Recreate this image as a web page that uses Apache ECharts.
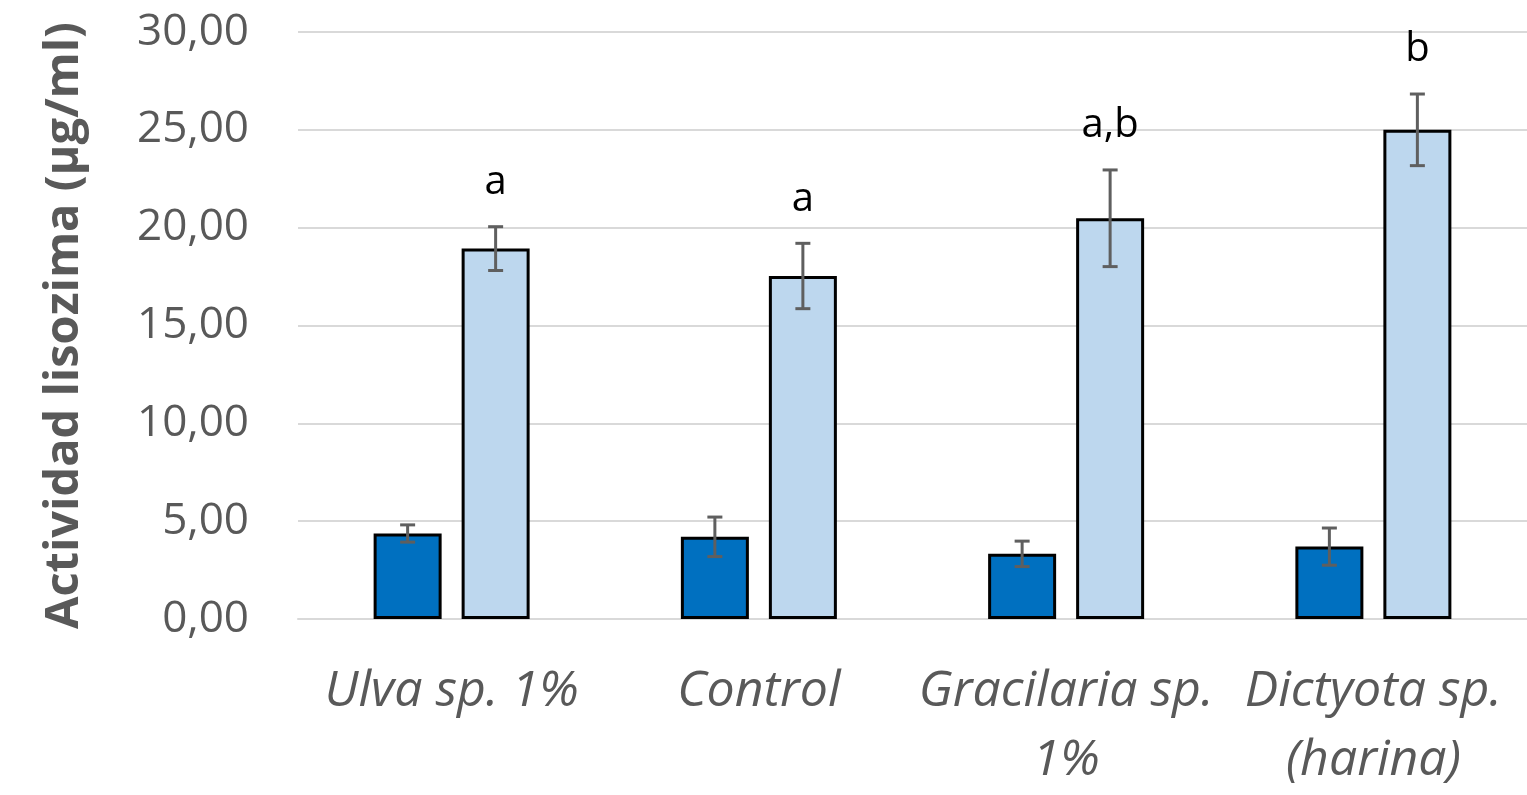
<!DOCTYPE html>
<html>
<head>
<meta charset="utf-8">
<script src="https://cdn.jsdelivr.net/npm/echarts@6/dist/echarts.min.js"></script>
<style>
  html, body { margin: 0; padding: 0; background: #fff; }
  #chart { width: 1527px; height: 795px; }
</style>
</head>
<body>
<div id="chart"></div>
<script>
// Lysozyme activity per diet (two sampling times), mean ± SD
const categories = ['Ulva sp. 1%', 'Control', 'Gracilaria sp.\n1%', 'Dictyota sp.\n(harina)'];
const seriesDark = [4.37, 4.20, 3.33, 3.70];
const errDark = [0.44, 1.01, 0.65, 0.95];
const seriesLight = [18.93, 17.53, 20.48, 25.00];
const errLight = [1.12, 1.67, 2.47, 1.83];
const letters = ['a', 'a', 'a,b', 'b'];
const yTicks = { min: 0, max: 30, interval: 5 };

const BAR_W = 68;
const GAP = 20;
const SHIFT = (BAR_W + GAP) / 2;
const FONT = '"Open Sans", "Noto Sans", sans-serif';

function errorRenderer(shift, withLetters) {
  return function (params, api) {
    const idx = api.value(0);
    const val = api.value(1);
    const err = api.value(2);
    const top = api.coord([idx, val + err]);
    const bot = api.coord([idx, val - err]);
    const x = top[0] + shift;
    const cap = 7.5;
    const style = { stroke: '#5f5f5f', lineWidth: 3 };
    const children = [
      { type: 'line', shape: { x1: x, y1: top[1], x2: x, y2: bot[1] }, style },
      { type: 'line', shape: { x1: x - cap, y1: top[1], x2: x + cap, y2: top[1] }, style },
      { type: 'line', shape: { x1: x - cap, y1: bot[1], x2: x + cap, y2: bot[1] }, style }
    ];
    if (withLetters) {
      children.push({
        type: 'text',
        style: {
          text: letters[idx],
          x: x, y: top[1] - 44,
          align: 'center', verticalAlign: 'middle',
          font: '40px ' + FONT,
          fill: '#000'
        }
      });
    }
    return { type: 'group', children };
  };
}

const chart = echarts.init(document.getElementById('chart'), null, { renderer: 'canvas' });
chart.setOption({
  animation: false,
  backgroundColor: '#ffffff',
  grid: { left: 298, top: 32, width: 1236, height: 593, containLabel: false },
  xAxis: {
    type: 'category',
    data: categories,
    axisLine: { show: true, lineStyle: { color: '#d9d9d9', width: 2 } },
    axisTick: { show: false },
    axisLabel: {
      interval: 0,
      margin: 38,
      fontFamily: FONT,
      fontStyle: 'italic',
      fontSize: 50,
      lineHeight: 69,
      color: '#595959'
    }
  },
  yAxis: {
    type: 'value',
    min: yTicks.min, max: yTicks.max, interval: yTicks.interval,
    name: 'Actividad lisozima (µg/ml)',
    nameLocation: 'middle',
    nameGap: 210,
    nameTextStyle: { fontFamily: FONT, fontWeight: 'bold', fontSize: 47, color: '#595959' },
    axisLine: { show: false },
    axisTick: { show: false },
    axisLabel: {
      margin: 49,
      fontFamily: FONT,
      fontSize: 44,
      color: '#595959',
      formatter: v => v.toFixed(2).replace('.', ',')
    },
    splitLine: { lineStyle: { color: '#d9d9d9', width: 2 } }
  },
  series: [
    {
      type: 'bar',
      data: seriesDark,
      barWidth: BAR_W,
      barGap: (GAP / BAR_W * 100) + '%',
      itemStyle: { color: '#0070C0', borderColor: '#000', borderWidth: 3 },
      z: 2
    },
    {
      type: 'bar',
      data: seriesLight,
      barWidth: BAR_W,
      itemStyle: { color: '#BDD7EE', borderColor: '#000', borderWidth: 3 },
      z: 2
    },
    {
      type: 'custom',
      data: seriesDark.map((v, i) => [i, v, errDark[i]]),
      renderItem: errorRenderer(-SHIFT, false),
      z: 5
    },
    {
      type: 'custom',
      data: seriesLight.map((v, i) => [i, v, errLight[i]]),
      renderItem: errorRenderer(SHIFT, true),
      z: 5
    }
  ]
});
</script>
</body>
</html>
